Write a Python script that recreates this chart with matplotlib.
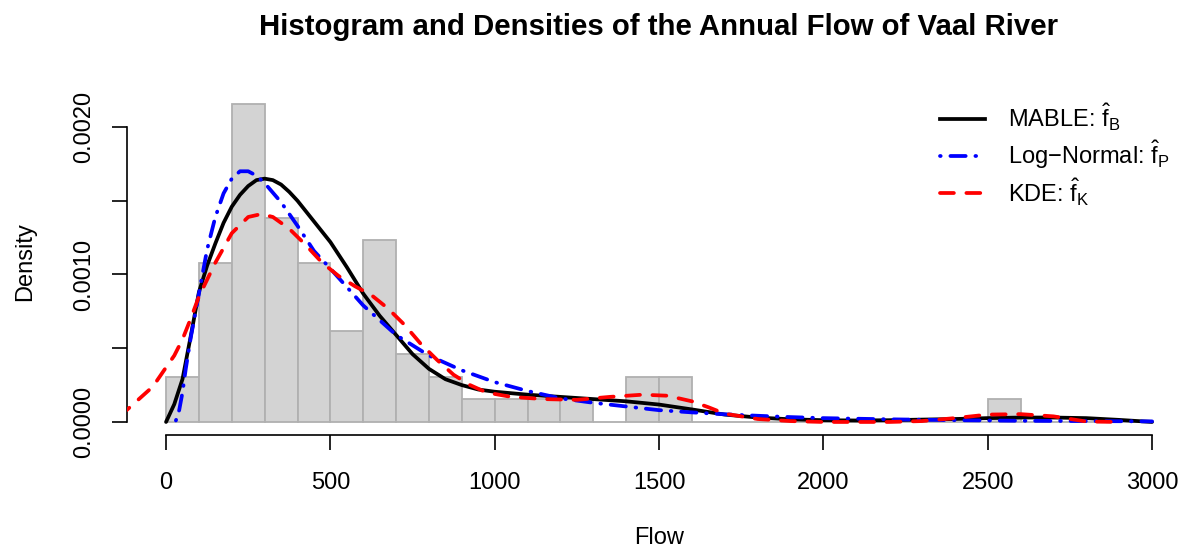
import numpy as np
import matplotlib
matplotlib.use('Agg')
from matplotlib import pyplot as plt
from matplotlib.lines import Line2D

plt.rcParams['font.family'] = ['Liberation Sans', 'DejaVu Sans']
plt.rcParams['mathtext.fontset'] = 'custom'
plt.rcParams['mathtext.rm'] = 'Liberation Sans'
plt.rcParams['mathtext.it'] = 'Liberation Sans:italic'
plt.rcParams['lines.scale_dashes'] = False

# histogram: bin edges and counts (n = 65)
bin_edges = list(range(0, 3100, 100))
counts = [2, 7, 14, 9, 7, 4, 8, 3, 2, 1, 1, 1, 1, 0, 2, 2, 0, 0, 0, 0,
          0, 0, 0, 0, 0, 1, 0, 0, 0, 0]

# MABLE (Bernstein) density
mable_x = [0, 25, 50, 75, 100, 125, 150, 175, 200, 225, 250, 275, 300, 325, 350,
           375, 400, 425, 450, 475, 500, 550, 600, 650, 700, 750, 800, 850, 900,
           950, 1000, 1100, 1200, 1300, 1400, 1500, 1600, 1700, 1800, 1900,
           2000, 2100, 2200, 2300, 2400, 2500, 2600, 2700, 2800, 2900, 3000]
mable_y = [0.0, 0.00012, 0.00029, 0.00058, 0.00088, 0.00106, 0.00121, 0.00135,
           0.00146, 0.00154, 0.00160, 0.00164, 0.00165, 0.00164, 0.00161,
           0.00156, 0.00150, 0.00143, 0.00136, 0.00129, 0.00122, 0.00105,
           0.00087, 0.00072, 0.00059, 0.00046, 0.00036, 0.00029, 0.00025,
           0.00022, 0.000205, 0.000185, 0.00017, 0.000155, 0.00014, 0.000118,
           0.000085, 0.00005, 0.00003, 0.000018, 0.000012, 0.00001, 0.000012,
           0.000016, 0.00002, 0.000026, 0.00003, 0.00003, 0.000026, 0.000014, 0.0]

# log-normal density
lnorm_x = [30, 40, 50, 60, 75, 100, 125, 150, 175, 200, 225, 250, 275, 300, 350,
           400, 450, 500, 600, 700, 800, 900, 1000, 1100, 1200, 1300, 1400, 1500,
           1600, 1700, 1800, 1900, 2000, 2200, 2400, 2600, 2800, 3000]
lnorm_y = [0.00001, 0.00008, 0.0002, 0.00036, 0.00057, 0.00087, 0.00117, 0.00139,
           0.00155, 0.00165, 0.00170, 0.00170, 0.00167, 0.00162, 0.00149, 0.00133,
           0.00116, 0.00104, 0.00079, 0.00059, 0.00045, 0.00035, 0.00027, 0.00021,
           0.00016, 0.00013, 0.000105, 0.00008, 0.000065, 0.000052, 0.000042,
           0.000033, 0.000026, 0.000018, 0.000012, 0.000008, 0.000006, 0.000004]

# kernel density estimate
kde_x = [-150, -120, -80, -40, 0, 25, 50, 75, 100, 150, 200, 250, 290, 325, 375,
         425, 475, 525, 575, 625, 675, 725, 775, 825, 875, 925, 975, 1050, 1150,
         1250, 1350, 1450, 1525, 1600, 1650, 1700, 1800, 1900, 2000, 2100, 2200,
         2300, 2400, 2500, 2600, 2700, 2800, 2900]
kde_y = [0.00006, 0.00008, 0.00016, 0.00024, 0.00037, 0.00045, 0.00056, 0.0007,
         0.00085, 0.00108, 0.00128, 0.00139, 0.00141, 0.00139, 0.00131, 0.0012,
         0.00108, 0.00099, 0.00092, 0.00086, 0.00077, 0.00066, 0.00053, 0.00042,
         0.00032, 0.00025, 0.0002, 0.00017, 0.000155, 0.00015, 0.00017, 0.000185,
         0.000178, 0.00014, 0.0001, 0.000056, 0.00002, 0.000006, 0.0, 0.0, 0.0,
         0.000006, 0.000026, 0.00005, 0.000053, 0.000038, 0.000003, 0.0]

W, H = 1186, 556
fig = plt.figure(figsize=(W / 100, H / 100), dpi=100)
ax = fig.add_axes([126.6 / W, 1 - 434.7 / H, (1191.5 - 126.6) / W, (434.7 - 90.7) / H])

n = sum(counts)
dens = np.array(counts) / (n * 100.0)
ax.bar(bin_edges[:-1], dens, width=100, align='edge', color='#d3d3d3',
       edgecolor='#b0b0b0', linewidth=1.3, zorder=1)

LW = 2.7
ax.plot(mable_x, mable_y, color='black', lw=LW, solid_capstyle='round',
        solid_joinstyle='round', zorder=3)
ax.plot(lnorm_x, lnorm_y, color='blue', lw=LW, dashes=(0.5, 7, 11, 7),
        dash_capstyle='round', zorder=3)
ax.plot(kde_x, kde_y, color='red', lw=LW, dashes=(10, 9),
        dash_capstyle='round', zorder=3)

ax.set_xlim(-120, 3120)
ax.set_ylim(-0.0000864, 0.0022464)

for s in ['top', 'right']:
    ax.spines[s].set_visible(False)
ax.spines['bottom'].set_bounds(0, 3000)
ax.spines['left'].set_bounds(0, 0.002)
ax.spines['bottom'].set_linewidth(1.2)
ax.spines['left'].set_linewidth(1.2)

ax.set_xticks([0, 500, 1000, 1500, 2000, 2500, 3000])
ax.set_xticklabels(['0', '500', '1000', '1500', '2000', '2500', '3000'])
ax.set_yticks([0, 0.0005, 0.001, 0.0015, 0.002])
ax.set_yticklabels(['0.0000', '', '0.0010', '', '0.0020'], rotation=90, va='center')
ax.tick_params(axis='both', length=10.8, width=1.2, labelsize=17)
ax.tick_params(axis='x', pad=16)
ax.tick_params(axis='y', pad=12)

fig.text(659 / W, 1 - 538 / H, 'Flow', ha='center', va='center', fontsize=17)
fig.text(25 / W, 1 - 262 / H, 'Density', ha='center', va='center', fontsize=17,
         rotation=90)
fig.text(659 / W, 1 - 27 / H, 'Histogram and Densities of the Annual Flow of Vaal River',
         ha='center', va='center', fontsize=21.2, fontweight='bold')

handles = [
    Line2D([], [], color='black', lw=LW),
    Line2D([], [], color='blue', lw=LW, dashes=(0.5, 7, 11, 7), dash_capstyle='round'),
    Line2D([], [], color='red', lw=LW, dashes=(10, 9), dash_capstyle='round'),
]
labels = [r'MABLE: $\hat{\mathrm{f}}_{\mathrm{B}}$',
          r'Log$-$Normal: $\hat{\mathrm{f}}_{\mathrm{P}}$',
          r'KDE: $\hat{\mathrm{f}}_{\mathrm{K}}$']
fig.legend(handles, labels, loc='upper left', bbox_to_anchor=(940 / W, 1 - 102 / H),
           frameon=False, fontsize=17, handlelength=1.9, handletextpad=1.0,
           labelspacing=0.22, borderpad=0, borderaxespad=0)

fig.savefig('out.png', dpi=100)
